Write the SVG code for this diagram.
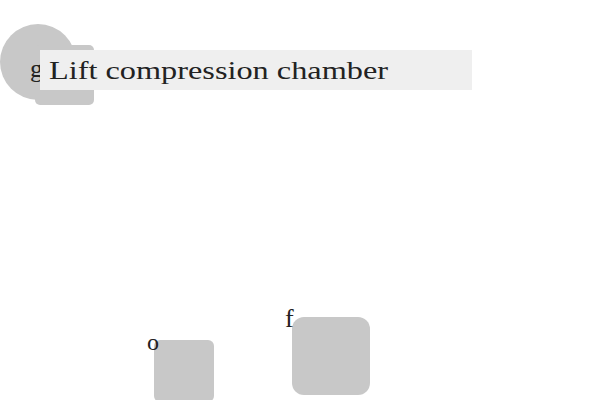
<svg xmlns="http://www.w3.org/2000/svg" width="600" height="400" viewBox="0 0 600 400">
<style>
.n{fill:#c8c8c8}
.t{font-family:"Liberation Serif","DejaVu Serif",serif;fill:#222}
</style>
<rect width="600" height="400" fill="#fff"/>
<g id="connectors"></g>
<g id="node-g">
<circle class="n" cx="38" cy="62" r="38"/>
<rect class="n" x="35" y="45" width="59" height="60" rx="5"/>
<text class="t" x="30" y="77" font-size="26">g</text>
</g>
<g id="title">
<rect x="40" y="50" width="432" height="40" fill="#efefef"/>
<text class="t" x="49" y="79" font-size="26" textLength="339" lengthAdjust="spacingAndGlyphs">Lift compression chamber</text>
</g>
<g id="node-o">
<rect class="n" x="154" y="340" width="60" height="62" rx="6"/>
<text class="t" x="147" y="350" font-size="24">o</text>
</g>
<g id="node-f">
<rect class="n" x="292" y="317" width="78" height="78" rx="12"/>
<text class="t" x="285" y="327" font-size="26">f</text>
</g>
</svg>
